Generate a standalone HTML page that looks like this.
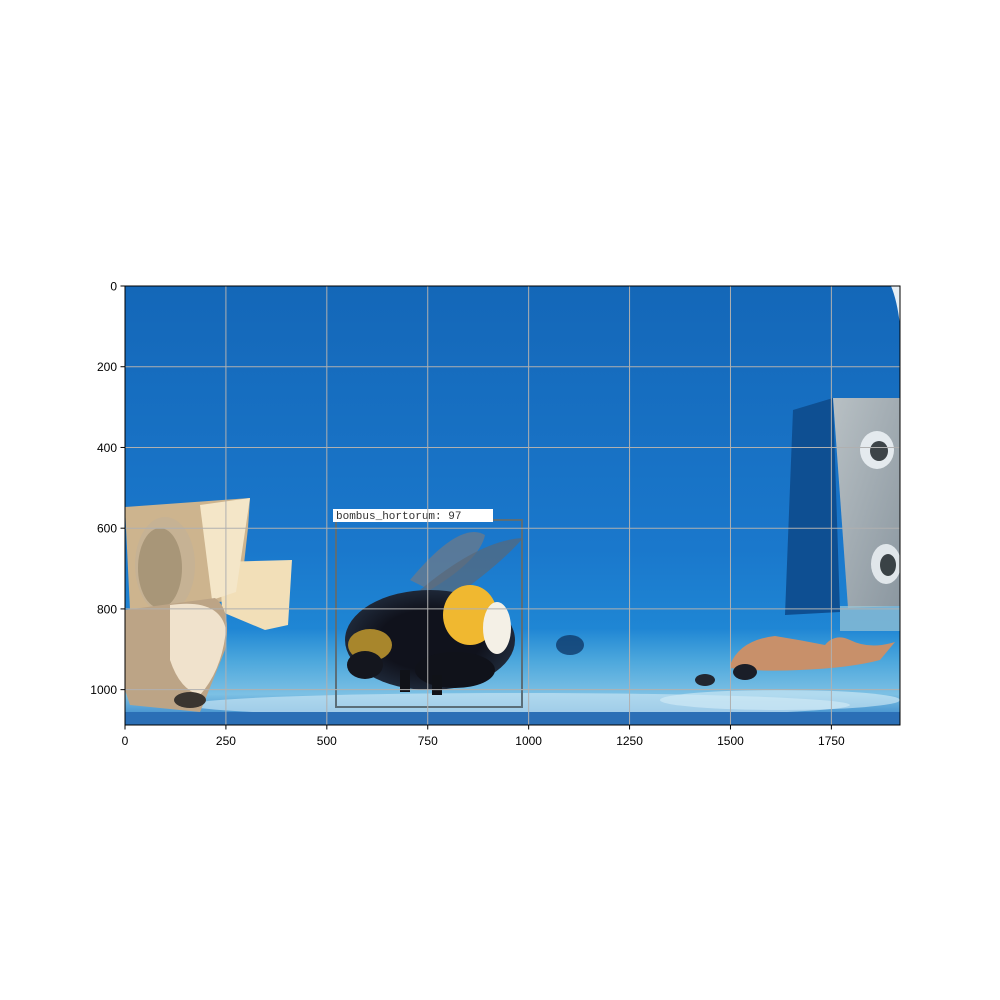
<!DOCTYPE html>
<html><head><meta charset="utf-8"><style>
html,body{margin:0;padding:0;background:#fff;}
svg{display:block;font-family:"Liberation Sans",sans-serif;}
</style></head><body>
<svg id="chart" width="1000" height="1000" viewBox="0 0 1000 1000" xmlns="http://www.w3.org/2000/svg">
<defs>
<linearGradient id="bg" x1="0" y1="0" x2="0" y2="1">
<stop offset="0" stop-color="#1467b8"/><stop offset="0.6" stop-color="#1a78cc"/><stop offset="0.78" stop-color="#1f86d4"/><stop offset="0.85" stop-color="#4aa6dc"/><stop offset="0.93" stop-color="#7cc0e4"/><stop offset="1" stop-color="#2a7cc4"/>
</linearGradient>
<radialGradient id="bee" cx="0.5" cy="0.5" r="0.5"><stop offset="0.6" stop-color="#10121c"/><stop offset="1" stop-color="#1e2838"/></radialGradient>
<linearGradient id="metal" x1="0" y1="0" x2="1" y2="1"><stop offset="0" stop-color="#b8c0c4"/><stop offset="1" stop-color="#8b97a0"/></linearGradient>
<clipPath id="imgclip"><rect x="125" y="286" width="775" height="439"/></clipPath>
</defs>
<g id="photo" clip-path="url(#imgclip)">
<rect x="125" y="286" width="775" height="439" fill="url(#bg)"/>
<path d="M891 286 L900 286 L900 325 Q897 300 891 286Z" fill="#e6eef4"/>
<ellipse cx="520" cy="705" rx="330" ry="12" fill="#c4e2f2" opacity="0.7"/>
<ellipse cx="780" cy="700" rx="120" ry="10" fill="#d6ecf6" opacity="0.6"/>
<rect x="125" y="712" width="775" height="13" fill="#2b6fb6"/>
<polygon points="793,410 833,398 840,612 785,615" fill="#0e4f92"/>
<polygon points="833,398 900,398 900,606 848,608" fill="url(#metal)"/>
<ellipse cx="877" cy="450" rx="17" ry="19" fill="#e4eaee"/><ellipse cx="879" cy="451" rx="9" ry="10" fill="#3d4448"/>
<ellipse cx="886" cy="564" rx="15" ry="20" fill="#e0e6ea"/><ellipse cx="888" cy="565" rx="8" ry="11" fill="#3a4246"/>
<rect x="840" y="606" width="60" height="25" fill="#9cc6d4" opacity="0.7"/>
<path d="M730 665 Q740 640 775 636 Q800 640 825 645 Q835 633 850 640 Q870 650 895 642 L880 660 Q850 668 800 670 Q760 672 730 668Z" fill="#c8906a"/>
<ellipse cx="745" cy="672" rx="12" ry="8" fill="#1a1e28"/><ellipse cx="705" cy="680" rx="10" ry="6" fill="#222630"/>
<ellipse cx="570" cy="645" rx="14" ry="10" fill="#0f3a6a" opacity="0.8"/>
<polygon points="125,507 250,498 248,528 240,600 130,610" fill="#cdb48e"/>
<polygon points="220,562 292,560 288,625 265,630 222,612" fill="#f2dfb8"/>
<polygon points="200,505 250,498 236,592 212,600" fill="#f4e6c8"/>
<ellipse cx="165" cy="565" rx="30" ry="48" fill="#c6b294"/>
<ellipse cx="160" cy="568" rx="22" ry="40" fill="#a89678"/>
<path d="M125 610 L215 598 Q232 610 225 650 L205 700 L200 712 L130 705 L125 690Z" fill="#bca486"/>
<path d="M170 605 Q220 598 226 630 Q222 670 200 695 Q180 690 170 660Z" fill="#f0e2cc"/>
<ellipse cx="190" cy="700" rx="16" ry="8" fill="#3a3530"/>
<g>
<path d="M410 580 Q460 520 485 535 Q480 560 430 590Z" fill="#6e7a88" opacity="0.75"/>
<path d="M420 590 Q480 540 523 538 Q500 565 450 600Z" fill="#5a6878" opacity="0.7"/>
<ellipse cx="430" cy="640" rx="85" ry="50" fill="url(#bee)"/>
<ellipse cx="470" cy="615" rx="27" ry="30" fill="#f0b830"/>
<ellipse cx="497" cy="628" rx="14" ry="26" fill="#f4f0e6"/>
<ellipse cx="370" cy="645" rx="22" ry="16" fill="#a8862c"/>
<ellipse cx="365" cy="665" rx="18" ry="14" fill="#14161e"/>
<ellipse cx="455" cy="670" rx="40" ry="18" fill="#10121a"/>
<rect x="400" y="670" width="10" height="22" fill="#101218"/><rect x="432" y="675" width="10" height="20" fill="#101218"/>
</g>
</g>
<rect x="336" y="520" width="186" height="187" fill="none" stroke="#5b6e78" stroke-width="2"/>
<rect x="333" y="509" width="160" height="13" fill="#ffffff"/>
<text x="336" y="519" font-size="11" fill="#333" font-family="Liberation Mono, monospace">bombus_hortorum: 97</text>
<g id="grid"></g>
<rect x="125" y="286" width="775" height="439" fill="none" stroke="#000" stroke-width="1"/>
<g id="axes"></g>
</svg>
<script>
const xTicks = [0, 250, 500, 750, 1000, 1250, 1500, 1750];
const yTicks = [0, 200, 400, 600, 800, 1000];
const xLabels = ["0","250","500","750","1000","1250","1500","1750"];
const yLabels = ["0","200","400","600","800","1000"];
const S = 775/1920;
function xs(v){return 125 + v*S;}
function ys(v){return 286 + v*S;}
const NS="http://www.w3.org/2000/svg";
const grid=document.getElementById('grid'), axes=document.getElementById('axes');
function mk(tag,attrs,parent){const e=document.createElementNS(NS,tag);for(const k in attrs)e.setAttribute(k,attrs[k]);parent.appendChild(e);return e;}
xTicks.forEach((v,i)=>{
  const x=xs(v);
  const g=mk('line',{x1:x,y1:286,x2:x,y2:725,stroke:'#b0b0b0','stroke-width':1},grid);
  
  
  const t=mk('line',{x1:x,y1:725,x2:x,y2:729.5,stroke:'#000','stroke-width':1},axes);
  
  
  const l=mk('text',{x:x,y:745,'font-size':12,'text-anchor':'middle',fill:'#000'},axes);
  l.textContent=xLabels[i];
  
  
});
yTicks.forEach((v,i)=>{
  const y=ys(v);
  const g=mk('line',{x1:125,y1:y,x2:900,y2:y,stroke:'#b0b0b0','stroke-width':1},grid);
  
  
  const t=mk('line',{x1:120.5,y1:y,x2:125,y2:y,stroke:'#000','stroke-width':1},axes);
  
  
  const l=mk('text',{x:117,y:y+4.5,'font-size':12,'text-anchor':'end',fill:'#000'},axes);
  l.textContent=yLabels[i];
  
  
});
</script>
</body></html>
